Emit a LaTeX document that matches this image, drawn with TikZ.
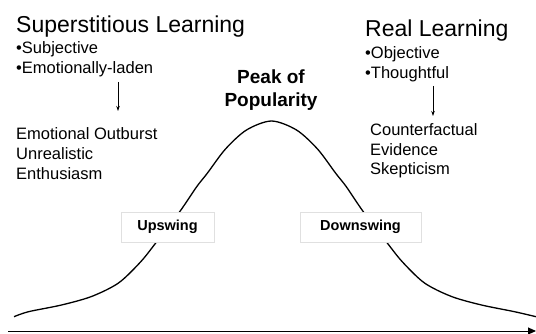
\documentclass[tikz,border=0pt]{standalone}
\usepackage{fontspec}
\setmainfont{Liberation Sans}
\usetikzlibrary{arrows.meta}
\begin{document}
\begin{tikzpicture}[x=1pt,y=-1pt,
  title/.style={anchor=base west,inner sep=0pt,font=\fontsize{23}{27}\selectfont},
  item/.style={anchor=base west,inner sep=0pt,font=\fontsize{16.5}{20}\selectfont},
  peak/.style={anchor=base,inner sep=0pt,font=\fontsize{19}{23}\bfseries\selectfont},
  phase/.style={draw=black!12,fill=white,line width=0.6pt,minimum height=30pt,
    inner sep=0pt,font=\fontsize{14.5}{17}\bfseries\selectfont},
  link/.style={-{Stealth[length=5pt,width=3.5pt]},line width=0.7pt},
  curve/.style={line width=1.3pt,line join=round},
  axis/.style={-{Triangle[length=8pt,width=7pt]},line width=1pt}]
\useasboundingbox (0,0) rectangle (536,334);

% time axis
\coordinate (ax0) at (8,331);
\coordinate (ax1) at (536,331);
\draw[axis] (ax0) -- (ax1);

% popularity curve, symmetric about x = 271.5
\draw[curve] plot[smooth,tension=0.5] coordinates {
  (14,316.7) (28.5,311.7) (61.5,305) (91.5,296.5) (118.5,283) (140.5,262)
  (156.5,242) (179.5,212) (196.5,187) (207.5,173) (225.5,149) (246.5,130)
  (271.5,121)
  (296.5,130) (317.5,149) (335.5,173) (346.5,187) (363.5,212) (386.5,242)
  (402.5,262) (424.5,283) (451.5,296.5) (481.5,305) (514.5,311.7) (536,316.7)};

% phase labels on the curve
\node[phase,minimum width=93pt] (up) at (167.5,227) {Upswing};
\node[phase,minimum width=121pt] (down) at (360.5,227) {Downswing};

% peak label
\node[peak] (peak1) at (271,84) {Peak of};
\node[peak] (peak2) at (271,107) {Popularity};

% superstitious learning
\node[title] (sl) at (16,33) {Superstitious Learning};
\node[item] (sl1) at (16,54) {\textbullet Subjective};
\node[item] (sl2) at (16,74) {\textbullet Emotionally-laden};
\node[item] (sl3) at (16,140) {Emotional Outburst};
\node[item] (sl4) at (16,160) {Unrealistic};
\node[item] (sl5) at (16,180) {Enthusiasm};
\coordinate (sla) at (118,82);
\coordinate (slb) at (118,111);
\draw[link] (sla) -- (slb);

% real learning
\node[title] (rl) at (365,37) {Real Learning};
\node[item] (rl1) at (365,59) {\textbullet Objective};
\node[item] (rl2) at (365,79) {\textbullet Thoughtful};
\node[item] (rl3) at (370,136) {Counterfactual};
\node[item] (rl4) at (370,156) {Evidence};
\node[item] (rl5) at (370,175) {Skepticism};
\coordinate (rla) at (433,86);
\coordinate (rlb) at (433,116);
\draw[link] (rla) -- (rlb);
\end{tikzpicture}
\end{document}
